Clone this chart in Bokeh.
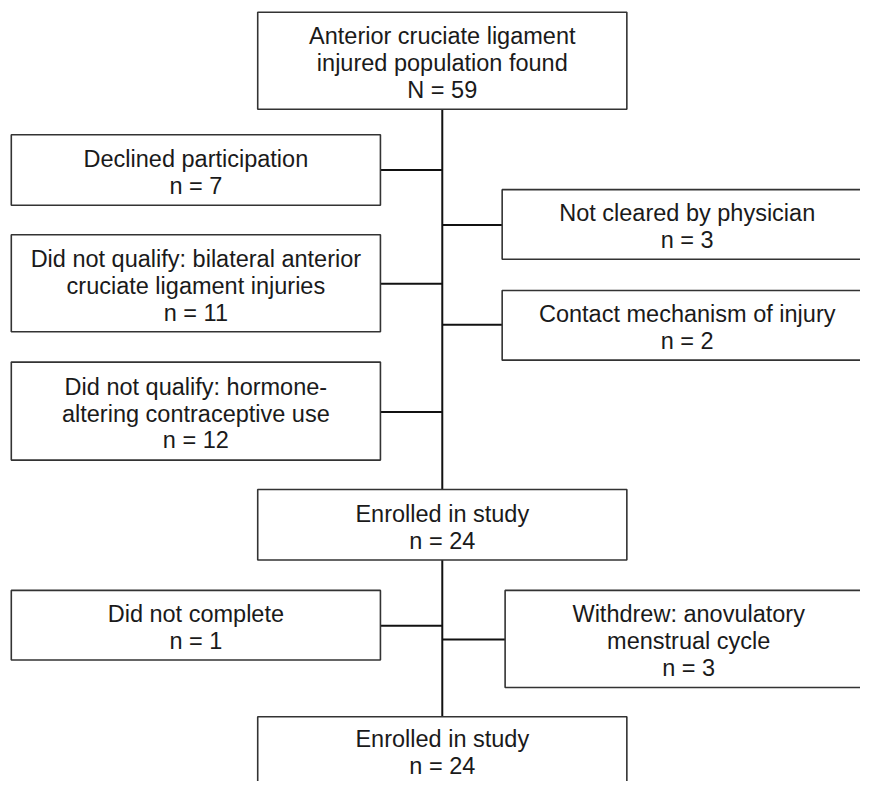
from bokeh.plotting import figure
from bokeh.models import Range1d
from bokeh.core.properties import value
from bokeh.embed import file_html
from bokeh.resources import INLINE

# ---- content ----
box_titles = [
    "Anterior cruciate ligament\ninjured population found",
    "Declined participation",
    "Not cleared by physician",
    "Did not qualify: bilateral anterior\ncruciate ligament injuries",
    "Contact mechanism of injury",
    "Did not qualify: hormone-\naltering contraceptive use",
    "Enrolled in study",
    "Did not complete",
    "Withdrew: anovulatory\nmenstrual cycle",
    "Enrolled in study",
]
count_symbol = ["N", "n", "n", "n", "n", "n", "n", "n", "n", "n"]
box_counts = [59, 7, 3, 11, 2, 12, 24, 1, 3, 24]

# ---- layout (pixel coordinates of the reference) ----
box_left = [262, 11, 511, 11, 511, 11, 262, 11, 514, 262]
box_right = [638, 387, 888, 387, 888, 387, 638, 387, 888, 638]
box_top = [12, 137, 193, 239, 296, 369, 499, 602, 602, 731]
box_bottom = [111, 209, 264, 338, 367, 469, 571, 673, 701, 803]

spine_x = 450
spine_segments = [(111, 499), (571, 731)]
# horizontal connectors: (x0, x1, y)
connectors = [
    (387, spine_x, 173),
    (spine_x, 511, 229),
    (387, spine_x, 289),
    (spine_x, 511, 331),
    (387, spine_x, 420),
    (387, spine_x, 638),
    (spine_x, 514, 652),
]

LINE_H = 27.5
TEXT_SHIFT = 2.5
FONT = "Liberation Sans"

p = figure(width=860, height=781, output_backend="svg", toolbar_location=None,
           x_range=Range1d(0, 876), y_range=Range1d(797, 0),
           min_border=0, outline_line_color=None)
p.axis.visible = False
p.grid.visible = False
p.background_fill_color = "white"

# connector lines
for (a, b) in spine_segments:
    p.line([spine_x, spine_x], [a, b], line_color="#111111", line_width=2)
for (x0, x1, y) in connectors:
    p.line([x0, x1], [y, y], line_color="#111111", line_width=2)

# boxes
p.quad(left=box_left, right=box_right, top=box_top, bottom=box_bottom,
       fill_color="white", line_color="#333333", line_width=1.6)

# texts
tx, ty, tt = [], [], []
for i, title in enumerate(box_titles):
    lines = title.split("\n") + [f"{count_symbol[i]} = {box_counts[i]}"]
    cx = (box_left[i] + box_right[i]) / 2
    cy = (box_top[i] + box_bottom[i]) / 2 + TEXT_SHIFT
    if box_bottom[i] > 797:
        cy = 767
    n = len(lines)
    for k, line in enumerate(lines):
        tx.append(cx)
        ty.append(cy + (k - (n - 1) / 2) * LINE_H)
        tt.append(line)

p.text(x=tx, y=ty, text=tt, text_align="center", text_baseline="middle",
       text_font=value(FONT), text_font_size="23.5px", text_color="#1a1a1a")

open("out.html", "w").write(file_html(p, INLINE))
